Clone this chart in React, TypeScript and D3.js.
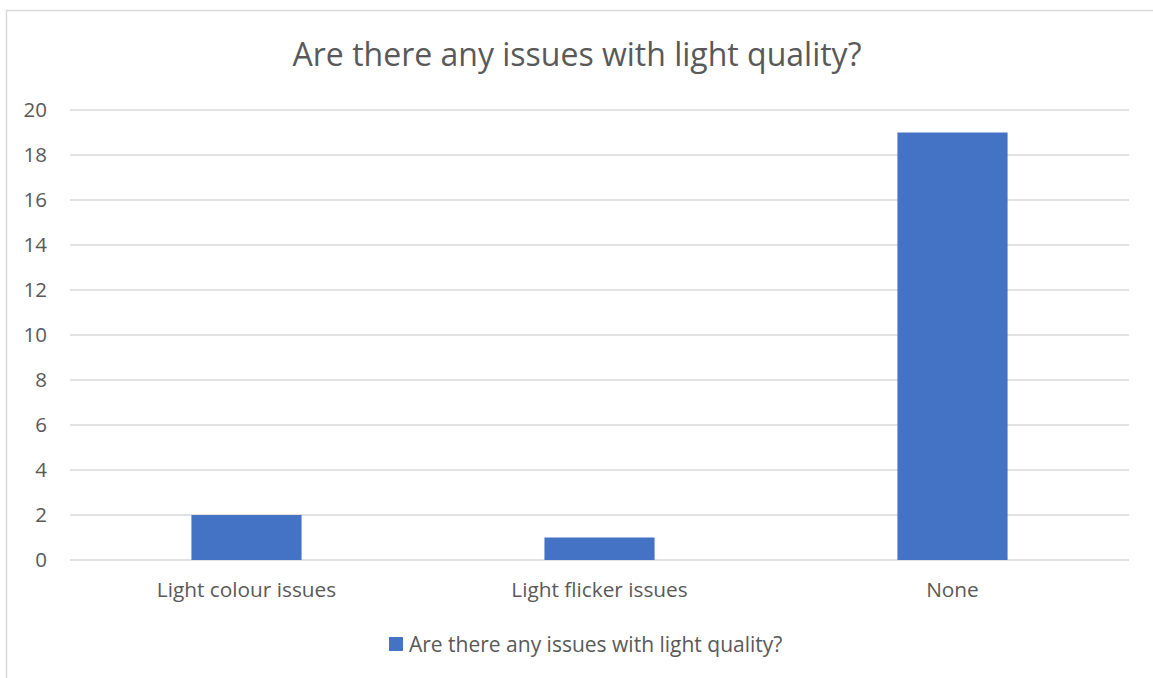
import React from "react";
import * as d3 from "d3";

const categories = ["Light colour issues", "Light flicker issues", "None"];
const values = [2, 1, 19];
const yTicks = [0, 2, 4, 6, 8, 10, 12, 14, 16, 18, 20];
const title = "Are there any issues with light quality?";
const seriesName = "Are there any issues with light quality?";

const W = 1153;
const H = 678;
const left = 70;
const right = 1129;
const top = 110;
const bottom = 560;
const FONT = "'Open Sans', sans-serif";
const TXT = "#595959";
const BAR = "#4472C4";

export default function App() {
  const x = d3.scaleBand<string>().domain(categories).range([left, right]).padding(0);
  const y = d3.scaleLinear().domain([0, 20]).range([bottom, top]);
  const bw = x.bandwidth() * 0.312;
  return (
    <svg width={W} height={H} style={{ position: "absolute", left: 0, top: 0, background: "#fff" }}>
      <rect x={6.5} y={10.5} width={W + 10} height={H + 10} fill="#fff" stroke="#d9d9d9" strokeWidth={1.5} />
      <text x={577} y={66} textAnchor="middle" fontFamily={FONT} fontSize={32} fill={TXT}>
        {title}
      </text>
      {yTicks.map((t) => (
        <g key={t}>
          <line x1={left} x2={right} y1={y(t)} y2={y(t)} stroke="#d9d9d9" strokeWidth={1.5} />
          <text x={47} y={y(t) + 7} textAnchor="end" fontFamily={FONT} fontSize={20.5} fill={TXT}>
            {t}
          </text>
        </g>
      ))}
      {categories.map((c, i) => {
        const cx = (x(c) as number) + x.bandwidth() / 2;
        return (
          <g key={c}>
            <rect x={cx - bw / 2} y={y(values[i])} width={bw} height={y(0) - y(values[i])} fill={BAR} />
            <text x={cx} y={597} textAnchor="middle" fontFamily={FONT} fontSize={20.8} fill={TXT}>
              {c}
            </text>
          </g>
        );
      })}
      <rect x={389} y={637} width={14} height={14} fill={BAR} />
      <text x={409} y={652} fontFamily={FONT} fontSize={21} fill={TXT}>
        {seriesName}
      </text>
    </svg>
  );
}
